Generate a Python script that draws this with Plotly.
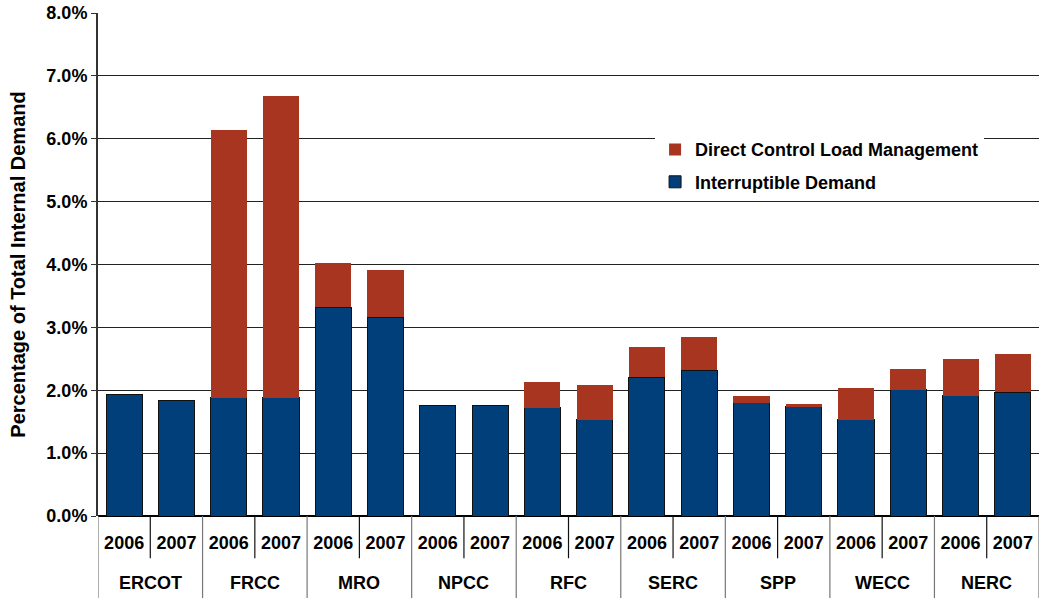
import plotly.graph_objects as go

regions = ["ERCOT", "FRCC", "MRO", "NPCC", "RFC", "SERC", "SPP", "WECC", "NERC"]
years = ["2006", "2007"]
interruptible = [1.94, 1.83, 1.88, 1.88, 3.32, 3.16, 1.75, 1.75, 1.72, 1.53,
                 2.21, 2.32, 1.80, 1.74, 1.53, 2.01, 1.91, 1.97]
direct_control = [0.0, 0.0, 4.26, 4.80, 0.70, 0.75, 0.0, 0.0, 0.41, 0.55,
                  0.48, 0.53, 0.11, 0.04, 0.50, 0.33, 0.59, 0.61]
y_ticks = [0, 1, 2, 3, 4, 5, 6, 7, 8]
y_tick_text = [f"{v:.1f}%" for v in y_ticks]

n_years = len(years)
positions = list(range(len(regions) * n_years))
year_labels = [years[i % n_years] for i in positions]

BLUE = "#013F7A"
RED = "#A83520"
FONT = "Liberation Sans, Arial, sans-serif"

fig = go.Figure()
fig.add_trace(go.Bar(
    x=positions, y=interruptible, name="Interruptible Demand",
    marker=dict(color=BLUE, line=dict(color="#111111", width=1)),
    legendgroup="b", legendrank=2,
))
fig.add_trace(go.Bar(
    x=positions, y=direct_control, name="Direct Control Load Management",
    marker=dict(color=RED, line=dict(width=0)),
    legendgroup="a", legendrank=1,
))

shapes = []
for g in range(len(regions)):
    shapes.append(dict(type="line", xref="x", yref="paper",
                       x0=g * n_years - 0.5, x1=g * n_years - 0.5,
                       y0=0, y1=-0.165, line=dict(color="#777777", width=1.2)))
    for k in range(1, n_years):
        xv = g * n_years + k - 0.5
        shapes.append(dict(type="line", xref="x", yref="paper",
                           x0=xv, x1=xv, y0=0, y1=-0.084,
                           line=dict(color="#111111", width=1.2)))
shapes.append(dict(type="line", xref="x", yref="paper",
                   x0=len(positions) - 0.5, x1=len(positions) - 0.5,
                   y0=0, y1=-0.165, line=dict(color="#777777", width=1.2)))

annotations = []
for g, r in enumerate(regions):
    annotations.append(dict(
        x=g * n_years + (n_years - 1) / 2, y=-0.133, xref="x", yref="paper",
        text=r, showarrow=False, yanchor="middle",
        font=dict(family=FONT, size=18, color="#000000", weight="bold"),
    ))

fig.update_layout(
    width=1039, height=598,
    barmode="stack", bargap=0.31,
    plot_bgcolor="white", paper_bgcolor="white",
    margin=dict(l=98, r=0, t=13, b=82, autoexpand=False),
    font=dict(family=FONT, size=18, color="#000000", weight="bold"),
    showlegend=True,
    legend=dict(
        x=0.592, y=0.765, xanchor="left", yanchor="top",
        bgcolor="white", traceorder="grouped", tracegroupgap=6,
        font=dict(family=FONT, size=18, color="#000000", weight="bold"),
    ),
    shapes=shapes,
    annotations=annotations,
)
fig.update_xaxes(
    range=[-0.5, len(positions) - 0.5], automargin=False,
    tickmode="array", tickvals=positions, ticktext=year_labels,
    ticks="", showgrid=False, zeroline=False, showline=False,
    ticklabelstandoff=14,
    tickfont=dict(family=FONT, size=18, color="#000000", weight="bold"),
)
fig.update_yaxes(
    range=[0, 8], automargin=False,
    tickmode="array", tickvals=y_ticks, ticktext=y_tick_text,
    showgrid=True, gridcolor="#222222", gridwidth=1,
    zeroline=True, zerolinecolor="#000000", zerolinewidth=1.5,
    showline=True, linecolor="#333333", linewidth=2,
    ticks="outside", ticklen=5, tickcolor="#333333",
    tickfont=dict(family=FONT, size=18, color="#000000", weight="bold"),
    title=dict(text="Percentage of Total Internal Demand", standoff=15,
               font=dict(family=FONT, size=20, color="#000000", weight="bold")),
)

fig.write_html(
    "out.html",
    config={"displayModeBar": False},
    post_script="document.body.style.margin='0px';document.body.style.padding='0px';document.body.style.overflow='hidden';",
)
